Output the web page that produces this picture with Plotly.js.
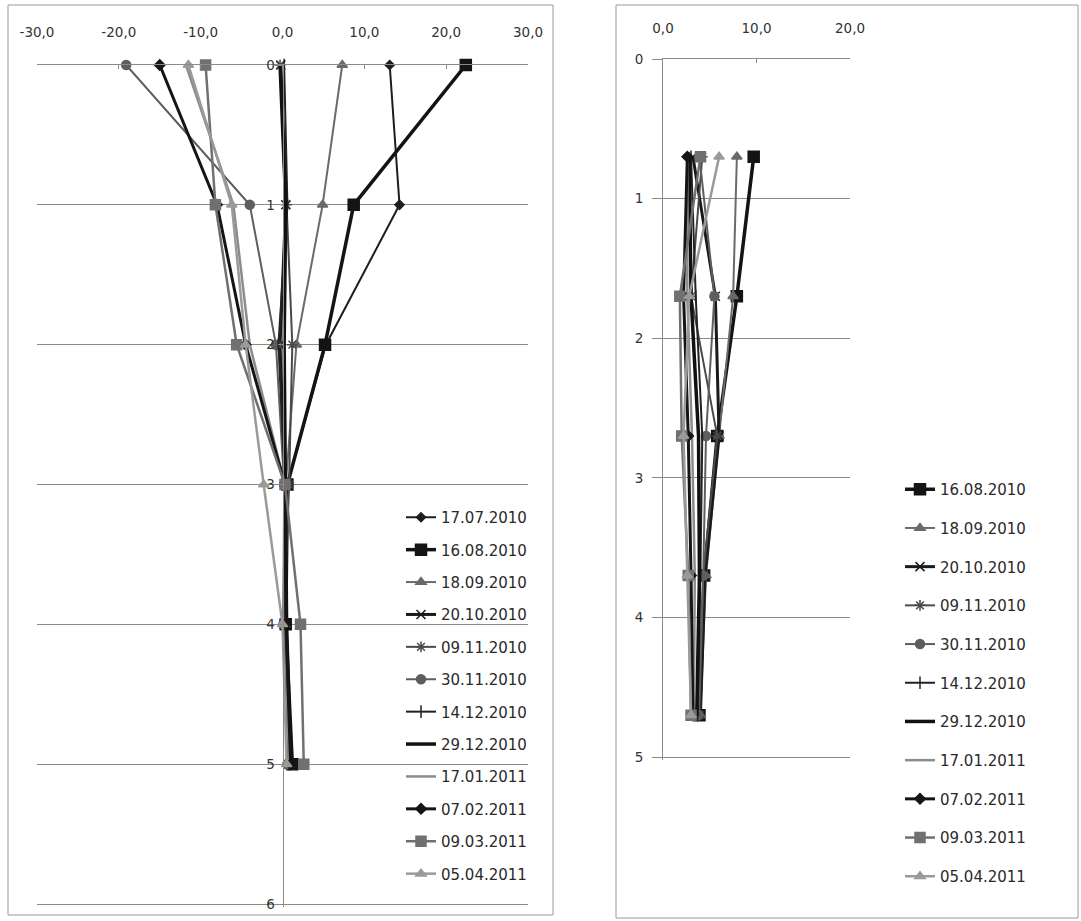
<!DOCTYPE html>
<html>
<head>
<meta charset="utf-8">
<script src="https://cdn.plot.ly/plotly-3.0.1.min.js"></script>
<style>html,body{margin:0;padding:0;background:#fff;}#chart{width:1081px;height:921px;}</style>
</head>
<body>
<div id="chart"></div>
<script>
// ---------- DATA ----------
const seriesNames = ["17.07.2010","16.08.2010","18.09.2010","20.10.2010","09.11.2010","30.11.2010",
                     "14.12.2010","29.12.2010","17.01.2011","07.02.2011","09.03.2011","05.04.2011"];

// Left chart: depth (m) vs temperature
const depthsLeft = [0, 1, 2, 3, 4, 5];
const left_17_07_2010 = [13.1, 14.3, 5.3, 0.6, 0.3, 0.8];
const left_16_08_2010 = [22.4, 8.7, 5.2, 0.6, 0.4, 1.2];
const left_18_09_2010 = [7.3, 4.9, 1.7, 0.4, 0.3, 0.8];
const left_20_10_2010 = [-0.2, 0.4, -0.3, 0.3, 0.2, 0.8];
const left_09_11_2010 = [-0.3, 0.5, 1.2, 0.8, 0.2, 0.6];
const left_30_11_2010 = [-19.1, -4.0, -0.8, 0.2, 0.1, 0.6];
const left_14_12_2010 = [0.2, 0.6, -0.5, 0.3, 0.2, 0.8];
const left_29_12_2010 = [-0.3, 0.4, 0.2, 0.4, 0.5, 1.0];
const left_17_01_2011 = [-11.8, -6.0, -4.0, 0.3, 0.3, 0.8];
const left_07_02_2011 = [-15.0, -8.0, -4.5, 0.3, 0.4, 1.0];
const left_09_03_2011 = [-9.4, -8.2, -5.6, 0.3, 2.2, 2.6];
const left_05_04_2011 = [-11.5, -6.2, -4.5, -2.3, 0.0, 0.5];

// Right chart
const depthsRight = [0.7, 1.7, 2.7, 3.7, 4.7];
const right_16_08_2010 = [9.7, 7.9, 5.8, 4.4, 3.9];
const right_18_09_2010 = [7.9, 7.5, 6.0, 4.6, 4.0];
const right_20_10_2010 = [3.2, 5.6, 6.0, 4.5, 4.0];
const right_09_11_2010 = [4.2, 3.0, 5.8, 4.3, 3.9];
const right_30_11_2010 = [3.9, 5.5, 4.6, 4.3, 3.8];
const right_14_12_2010 = [3.0, 3.5, 4.2, 4.0, 3.7];
const right_29_12_2010 = [2.8, 3.0, 3.8, 3.9, 3.6];
const right_17_01_2011 = [2.6, 2.6, 3.1, 3.4, 3.3];
const right_07_02_2011 = [2.6, 2.2, 2.7, 3.0, 3.2];
const right_09_03_2011 = [4.0, 1.8, 2.0, 2.7, 3.0];
const right_05_04_2011 = [6.0, 2.8, 2.2, 2.6, 3.0];

const leftTickVals = [-30, -20, -10, 0, 10, 20, 30];
const leftTickText = ["-30,0", "-20,0", "-10,0", "0,0", "10,0", "20,0", "30,0"];
const rightTickVals = [0, 10, 20];
const rightTickText = ["0,0", "10,0", "20,0"];
const leftDepthTicks = [0, 1, 2, 3, 4, 5, 6];
const rightDepthTicks = [0, 1, 2, 3, 4, 5];

// ---------- STYLES ----------
const styles = {
  "17.07.2010": {color:"#1e1e1e", width:2,   symbol:"diamond", size:7},
  "16.08.2010": {color:"#141414", width:3.5, symbol:"square", size:11},
  "18.09.2010": {color:"#6a6a6a", width:2,   symbol:"triangle-up", size:9},
  "20.10.2010": {color:"#1a1a1a", width:3,   symbol:"x-thin-open", size:9},
  "09.11.2010": {color:"#4a4a4a", width:2,   symbol:"asterisk-open", size:9},
  "30.11.2010": {color:"#5e5e5e", width:2,   symbol:"circle", size:9},
  "14.12.2010": {color:"#222222", width:2,   symbol:"line-ns-open", size:9},
  "29.12.2010": {color:"#111111", width:3.5, symbol:null, size:0},
  "17.01.2011": {color:"#8c8c8c", width:2.5, symbol:null, size:0},
  "07.02.2011": {color:"#151515", width:3,   symbol:"diamond", size:8},
  "09.03.2011": {color:"#707070", width:2.5, symbol:"square", size:10},
  "05.04.2011": {color:"#9a9a9a", width:2.5, symbol:"triangle-up", size:9}
};

const leftData = {
  "17.07.2010": left_17_07_2010, "16.08.2010": left_16_08_2010, "18.09.2010": left_18_09_2010,
  "20.10.2010": left_20_10_2010, "09.11.2010": left_09_11_2010, "30.11.2010": left_30_11_2010,
  "14.12.2010": left_14_12_2010, "29.12.2010": left_29_12_2010, "17.01.2011": left_17_01_2011,
  "07.02.2011": left_07_02_2011, "09.03.2011": left_09_03_2011, "05.04.2011": left_05_04_2011
};
const rightData = {
  "16.08.2010": right_16_08_2010, "18.09.2010": right_18_09_2010, "20.10.2010": right_20_10_2010,
  "09.11.2010": right_09_11_2010, "30.11.2010": right_30_11_2010, "14.12.2010": right_14_12_2010,
  "29.12.2010": right_29_12_2010, "17.01.2011": right_17_01_2011, "07.02.2011": right_07_02_2011,
  "09.03.2011": right_09_03_2011, "05.04.2011": right_05_04_2011
};

function mkTrace(name, xs, ys, xa, ya, legend, group) {
  const s = styles[name];
  const t = {
    type: "scatter", name: name, x: xs, y: ys, xaxis: xa, yaxis: ya,
    legend: legend, legendgroup: group,
    mode: s.symbol ? "lines+markers" : "lines",
    line: {color: s.color, width: s.width},
    cliponaxis: false
  };
  if (s.symbol) t.marker = {symbol: s.symbol, size: s.size, color: s.color, line: {color: s.color, width: 1.5}};
  return t;
}

const traces = [];
seriesNames.forEach(n => { traces.push(mkTrace(n, leftData[n], depthsLeft, "x", "y", "legend", "L" + n)); });
seriesNames.forEach(n => { if (rightData[n]) traces.push(mkTrace(n, rightData[n], depthsRight, "x2", "y2", "legend2", "R" + n)); });

// ---------- LAYOUT ----------
const W = 1081, H = 921;
const px = v => v / W;
const py = v => 1 - v / H;
const axisColor = "#8a8a8a";
const fam = "'DejaVu Sans', 'Open Sans', sans-serif";
const font = {family: fam, size: 14, color: "#333"};

const lx0 = px(37), lx1 = px(528);
const layout = {
  width: W, height: H,
  margin: {l: 0, r: 0, t: 0, b: 0},
  paper_bgcolor: "#fff", plot_bgcolor: "rgba(0,0,0,0)",
  font: font,
  showlegend: true,
  xaxis: {
    domain: [lx0, lx1], range: [-30, 30], side: "top", anchor: "y",
    showline: true, linecolor: axisColor, linewidth: 1,
    showgrid: false, zeroline: false,
    tickmode: "array", tickvals: leftTickVals, ticktext: leftTickText,
    ticks: "inside", ticklen: 4, tickcolor: axisColor,
    ticklabelstandoff: 22, fixedrange: true,
    tickfont: {family: fam, size: 13.5, color: "#333"}
  },
  yaxis: {
    domain: [py(906.8), py(65)], range: [6.02, 0], anchor: "free", position: (lx0 + lx1) / 2,
    showline: true, linecolor: axisColor, linewidth: 1,
    showgrid: true, gridcolor: axisColor, gridwidth: 1, zeroline: false,
    tickmode: "array", tickvals: leftDepthTicks,
    ticks: "outside", ticklen: 5, tickcolor: axisColor, ticklabelstandoff: 0, fixedrange: true,
    tickfont: {family: fam, size: 13.5, color: "#333"}
  },
  xaxis2: {
    domain: [px(663), px(850)], range: [0, 20], side: "top", anchor: "y2",
    showline: true, linecolor: axisColor, linewidth: 1,
    showgrid: false, zeroline: false,
    tickmode: "array", tickvals: rightTickVals, ticktext: rightTickText,
    ticks: "inside", ticklen: 4, tickcolor: axisColor,
    ticklabelstandoff: 20, fixedrange: true,
    tickfont: {family: fam, size: 13.5, color: "#333"}
  },
  yaxis2: {
    domain: [py(759.8), py(59)], range: [5.02, 0], anchor: "x2",
    showline: true, linecolor: axisColor, linewidth: 1,
    showgrid: true, gridcolor: axisColor, gridwidth: 1, zeroline: false,
    tickmode: "array", tickvals: rightDepthTicks,
    ticks: "outside", ticklen: 10, tickcolor: axisColor, ticklabelstandoff: 6, fixedrange: true,
    tickfont: {family: fam, size: 13.5, color: "#333"}
  },
  legend: {
    x: px(401), y: py(501), xanchor: "left", yanchor: "top",
    bgcolor: "rgba(0,0,0,0)", borderwidth: 0,
    font: {family: fam, size: 15, color: "#2a2a2a"},
    traceorder: "grouped", tracegroupgap: 9.9, itemwidth: 30
  },
  legend2: {
    x: px(900), y: py(473), xanchor: "left", yanchor: "top",
    bgcolor: "rgba(0,0,0,0)", borderwidth: 0,
    font: {family: fam, size: 15, color: "#2a2a2a"},
    traceorder: "grouped", tracegroupgap: 16.2, itemwidth: 30
  },
  shapes: [
    {type: "rect", xref: "paper", yref: "paper", x0: px(8), x1: px(553), y0: py(915), y1: py(5),
     line: {color: "#9a9a9a", width: 1}, fillcolor: "rgba(0,0,0,0)", layer: "below"},
    {type: "rect", xref: "paper", yref: "paper", x0: px(616), x1: px(1078), y0: py(918), y1: py(5),
     line: {color: "#9a9a9a", width: 1}, fillcolor: "rgba(0,0,0,0)", layer: "below"}
  ]
};

Plotly.newPlot("chart", traces, layout, {staticPlot: true, displayModeBar: false});
</script>
</body>
</html>
